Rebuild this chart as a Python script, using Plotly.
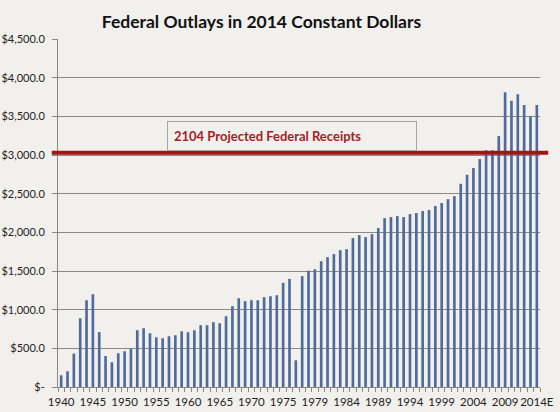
import plotly.graph_objects as go

# Federal outlays, billions of 2014 dollars
years = [str(y) for y in range(1940, 1977)] + ["TQ"] + [str(y) for y in range(1977, 2014)] + ["2014E"]
outlays = [
    151, 203, 432, 889, 1122, 1200, 709, 401, 320, 436,          # 1940-1949
    462, 492, 734, 760, 695, 643, 630, 656, 669, 721,            # 1950-1959
    708, 734, 799, 799, 838, 825, 915, 1045, 1148, 1110,         # 1960-1969
    1122, 1122, 1161, 1174, 1187, 1346, 1398,                    # 1970-1976
    345,                                                         # transition quarter
    1433, 1504, 1523, 1627, 1679, 1718, 1769, 1782, 1925, 1964,  # 1977-1986
    1938, 1977, 2055, 2184, 2197, 2210, 2197, 2236, 2249, 2275,  # 1987-1996
    2288, 2340, 2379, 2429, 2468, 2628, 2744, 2831, 2947, 3062,  # 1997-2006
    3062, 3245, 3813, 3700, 3787, 3648, 3497, 3648,              # 2007-2014E
]
receipts_2014 = 3030

label_years = ["1940", "1945", "1950", "1955", "1960", "1965", "1970", "1975",
               "1979", "1984", "1989", "1994", "1999", "2004", "2009", "2014E"]
y_ticks = [0, 500, 1000, 1500, 2000, 2500, 3000, 3500, 4000, 4500]
y_text = ["$-"] + ["${:,.1f}".format(v) for v in y_ticks[1:]]

x = list(range(len(years)))
label_pos = [years.index(y) for y in label_years]

bg = "#F2F0ED"
grid = "#8A8886"
font = "Lato, 'Open Sans', sans-serif"

fig = go.Figure()
fig.add_trace(go.Bar(
    x=x, y=outlays,
    marker=dict(color="#4E6B99", line=dict(width=0)),
    customdata=years,
    hovertemplate="%{customdata}: $%{y:,.1f}<extra></extra>",
))

# red line for projected receipts, runs a little past the plot edges
fig.add_shape(type="line", xref="paper", yref="y",
              x0=-0.013, x1=1.017, y0=receipts_2014, y1=receipts_2014,
              line=dict(color="#A31515", width=4), layer="above")

fig.add_annotation(
    xref="paper", yref="y", x=0.485, y=3245,
    text="<b>2104 Projected Federal Receipts</b>",
    showarrow=False, width=236, align="left",
    font=dict(family=font, size=13, color="#A81C24"),
    bordercolor="#A6A6A6", borderwidth=1, borderpad=6, bgcolor=bg,
)

fig.update_layout(
    width=560, height=412,
    title=dict(text="<b>Federal Outlays in 2014 Constant Dollars</b>",
               x=0.467, xanchor="center", y=0.948, yanchor="middle",
               font=dict(family=font, size=17.5, color="#111111")),
    paper_bgcolor=bg, plot_bgcolor=bg,
    margin=dict(l=58, r=20, t=39, b=25),
    bargap=0.58,
    showlegend=False,
    font=dict(family=font, size=11, color="#222222"),
    xaxis=dict(
        range=[-0.5, len(years) - 0.5],
        tickmode="array", tickvals=label_pos, ticktext=label_years,
        ticks="", showgrid=False, zeroline=False, tickangle=0,
        automargin=False, ticklabelstandoff=4,
        showline=True, linecolor=grid, linewidth=1,
        tickfont=dict(size=11.5),
        minor=dict(tickmode="linear", tick0=-0.5, dtick=1, ticks="outside",
                   ticklen=4, tickcolor=grid, showgrid=False),
    ),
    yaxis=dict(
        range=[0, 4500],
        tickmode="array", tickvals=y_ticks, ticktext=y_text,
        ticks="outside", ticklen=5, tickcolor=grid,
        showgrid=True, gridcolor=grid, gridwidth=1,
        zeroline=False, showline=True, linecolor=grid, linewidth=1,
        ticklabelstandoff=5, automargin=False,
        tickfont=dict(size=11),
    ),
)

# drop the page's default 8px body margin so the figure sits at the corner
fig.write_html("out.html",
               config={"displayModeBar": False},
               post_script="document.body.style.margin='0';"
                           "document.body.style.background='%s';" % bg)
